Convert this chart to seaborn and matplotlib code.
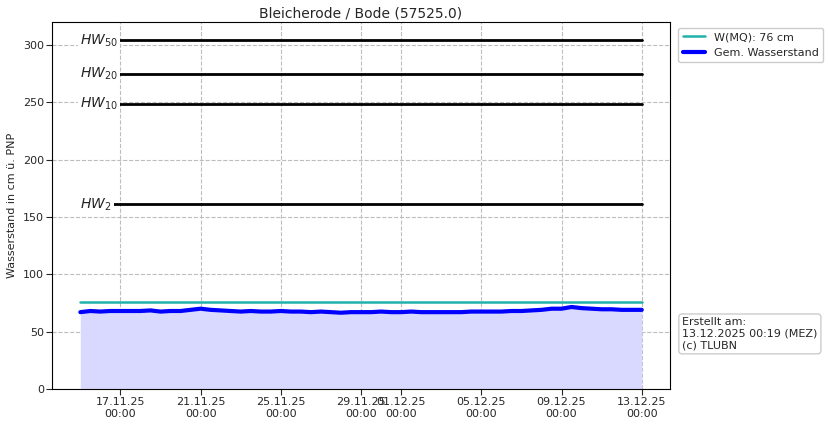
import pandas as pd
import numpy as np
import matplotlib
matplotlib.use('Agg')
import matplotlib.pyplot as plt
import matplotlib.dates as mdates
import seaborn as sns

# ------------------------------------------------------------
# Data (12h steps from 15.11.25 00:00)
# ------------------------------------------------------------
start = '2025-11-15 00:00'
water_level = [
    67, 68, 67.5, 68, 68, 68, 68, 68.5, 67.5, 68,
    68, 69, 70, 69, 68.5, 68, 67.5, 68, 67.5, 67.5,
    68, 67.5, 67.5, 67, 67.5, 67, 66.5, 67, 67, 67,
    67.5, 67, 67, 67.5, 67, 67, 67, 67, 67, 67.5,
    67.5, 67.5, 67.5, 68, 68, 68.5, 69, 70, 70, 71.5,
    70.5, 70, 69.5, 69.5, 69, 69, 69,
]
mq_value = 76
hw_names = ['$HW_{50}$', '$HW_{20}$', '$HW_{10}$', '$HW_{2}$']
hw_values = [304, 275, 249, 161]

times = pd.date_range(start, periods=len(water_level), freq='12h')
df = pd.DataFrame({'time': times, 'level': water_level})

sns.set_style('whitegrid', {'grid.linestyle': '--', 'grid.color': '#bdbdbd',
                            'axes.edgecolor': 'black', 'xtick.bottom': True,
                            'ytick.left': True})
plt.rcParams['font.family'] = ['DejaVu Sans']

fig = plt.figure(figsize=(8.29, 4.26), dpi=100)
ax = fig.add_axes([0.063, 0.087, 0.745, 0.861])

t0, t1 = times[0], times[-1]

# HW lines with labels
for name, val in zip(hw_names, hw_values):
    ax.plot([t0, t1], [val, val], color='black', lw=2, zorder=3)
    ax.text(t0, val, name, fontsize=10, ha='left', va='center', zorder=4,
            bbox=dict(facecolor='white', edgecolor='none', pad=1.5))

ax.plot([t0, t1], [mq_value, mq_value], color='#20b2aa', lw=1.8,
        label=f'W(MQ): {mq_value} cm', zorder=3)
ax.fill_between(df['time'], df['level'], 0, color='#d9d9ff', lw=0, zorder=1)
sns.lineplot(data=df, x='time', y='level', ax=ax, color='blue', lw=3,
             label='Gem. Wasserstand', zorder=3)

ax.set_ylim(0, 320)
ax.set_yticks(np.arange(0, 301, 50))
ax.xaxis.set_major_locator(mdates.DayLocator(bymonthday=[1, 5, 9, 13, 17, 21, 25, 29]))
ax.xaxis.set_major_formatter(mdates.DateFormatter('%d.%m.%y\n%H:%M'))
ax.tick_params(labelsize=8, length=4, pad=2)
ax.set_xlabel('')
ax.set_ylabel('Wasserstand in cm ü. PNP', fontsize=8)
ax.set_title('Bleicherode / Bode (57525.0)', fontsize=10, pad=3)

ax.legend(loc='upper left', bbox_to_anchor=(1.005, 1.0), fontsize=8,
          frameon=True, framealpha=1, edgecolor='#cccccc')
ax.text(1.02, 0.15, 'Erstellt am:\n13.12.2025 00:19 (MEZ)\n(c) TLUBN',
        transform=ax.transAxes, fontsize=8, va='center', ha='left',
        bbox=dict(boxstyle='round', facecolor='white', edgecolor='#cccccc'))

plt.savefig('out.png', dpi=100)
